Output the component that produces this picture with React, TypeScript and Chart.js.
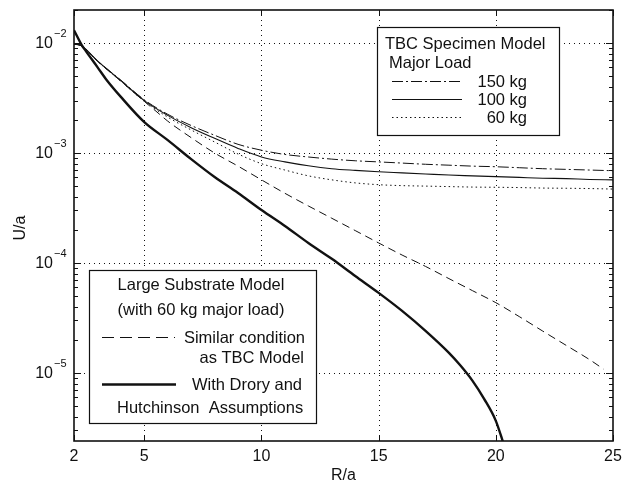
import React, { useEffect, useRef } from "react";
import { Chart, registerables } from "chart.js";

Chart.register(...registerables);

// ---- axis settings ----
const X_MIN = 2;
const X_MAX = 25;
const Y_MIN = 2.4e-6;
const Y_MAX = 2.0e-2;
const X_TICKS = [2, 5, 10, 15, 20, 25];
const Y_EXPONENTS = [-5, -4, -3, -2];
const X_TITLE = "R/a";
const Y_TITLE = "U/a";

// ---- TBC specimen model (major load) ----
const R_TBC = [2, 2.3, 3, 4, 5, 6, 7, 8, 9, 10, 11, 12, 13, 14, 15, 16, 17, 18, 19, 20, 21, 22, 23, 24, 25];
const U_150 = [9.8e-3, 9.5e-3, 6.9e-3, 4.6e-3, 3.05e-3, 2.25e-3, 1.78e-3, 1.45e-3, 1.2e-3, 1.06e-3, 9.7e-4, 9.2e-4, 8.8e-4, 8.5e-4, 8.3e-4, 8.1e-4, 7.9e-4, 7.75e-4, 7.6e-4, 7.5e-4, 7.35e-4, 7.2e-4, 7.1e-4, 7.0e-4, 6.9e-4];
const U_100 = [9.8e-3, 9.5e-3, 6.9e-3, 4.55e-3, 3.0e-3, 2.2e-3, 1.7e-3, 1.36e-3, 1.1e-3, 9.2e-4, 8.3e-4, 7.65e-4, 7.2e-4, 6.95e-4, 6.75e-4, 6.6e-4, 6.45e-4, 6.3e-4, 6.2e-4, 6.1e-4, 6.0e-4, 5.9e-4, 5.85e-4, 5.75e-4, 5.7e-4];
const U_60 = [9.8e-3, 9.5e-3, 6.85e-3, 4.5e-3, 2.95e-3, 2.12e-3, 1.62e-3, 1.26e-3, 9.8e-4, 8.0e-4, 7.0e-4, 6.2e-4, 5.7e-4, 5.35e-4, 5.15e-4, 5.05e-4, 5.0e-4, 4.95e-4, 4.9e-4, 4.88e-4, 4.85e-4, 4.8e-4, 4.78e-4, 4.75e-4, 4.7e-4];

// ---- Large substrate model (60 kg) ----
const R_SIMILAR = [2, 2.3, 3, 4, 5, 5.5, 6, 7, 8, 9, 10, 11, 12, 13, 14, 15, 16, 17, 18, 19, 20, 21, 22, 23, 24, 24.6];
const U_SIMILAR = [9.8e-3, 9.5e-3, 6.85e-3, 4.5e-3, 2.95e-3, 2.4e-3, 1.95e-3, 1.38e-3, 1.0e-3, 7.6e-4, 5.7e-4, 4.3e-4, 3.3e-4, 2.55e-4, 1.97e-4, 1.52e-4, 1.18e-4, 9.3e-5, 7.2e-5, 5.6e-5, 4.35e-5, 3.25e-5, 2.4e-5, 1.78e-5, 1.32e-5, 1.08e-5];
const R_DRORY = [2, 2.33, 2.5, 3, 3.4, 4, 5, 6, 7, 8, 9, 10, 11, 12, 13, 14, 15, 16, 17, 18, 18.5, 19, 19.5, 20, 20.35];
const U_DRORY = [1.31e-2, 9.6e-3, 8.5e-3, 6.05e-3, 4.6e-3, 3.24e-3, 1.91e-3, 1.31e-3, 8.8e-4, 6.05e-4, 4.33e-4, 3.03e-4, 2.17e-4, 1.52e-4, 1.09e-4, 7.6e-5, 5.34e-5, 3.66e-5, 2.41e-5, 1.52e-5, 1.16e-5, 8.5e-6, 5.8e-6, 3.66e-6, 2.2e-6];

// ---- legend texts ----
const TBC_TITLE = ["TBC Specimen Model", "Major Load"];
const TBC_LABELS = ["150 kg", "100 kg", "60 kg"];
const LS_TITLE = ["Large Substrate Model", "(with 60 kg major load)"];
const LS_LABEL_1 = ["Similar condition", "as TBC Model"];
const LS_LABEL_2 = ["With Drory and", "Hutchinson  Assumptions"];

const FONT = "'Liberation Sans', Arial, Helvetica, sans-serif";
const INK = "#111";

const DASH_150 = [11, 3, 2, 3];
const DASH_60 = [1.5, 3];
const DASH_SIM = [8, 5];

function pts(xs: number[], ys: number[]) {
  return xs.map((x, i) => ({ x, y: ys[i] }));
}

const decorPlugin = {
  id: "decor",
  beforeDatasetsDraw(chart: any) {
    const { ctx, chartArea: a, scales } = chart;
    const xs = scales.x;
    const ys = scales.y;
    ctx.save();
    ctx.strokeStyle = INK;
    ctx.lineWidth = 1;
    ctx.setLineDash([1, 4]);
    for (const t of X_TICKS) {
      if (t === X_MIN || t === X_MAX) continue;
      const px = Math.round(xs.getPixelForValue(t)) + 0.5;
      ctx.beginPath();
      ctx.moveTo(px, a.top);
      ctx.lineTo(px, a.bottom);
      ctx.stroke();
    }
    for (const e of Y_EXPONENTS) {
      const py = Math.round(ys.getPixelForValue(Math.pow(10, e))) + 0.5;
      ctx.beginPath();
      ctx.moveTo(a.left, py);
      ctx.lineTo(a.right, py);
      ctx.stroke();
    }
    ctx.restore();
  },
  afterDraw(chart: any) {
    const { ctx, chartArea: a, scales } = chart;
    const xs = scales.x;
    const ys = scales.y;
    ctx.save();
    ctx.setLineDash([]);
    ctx.strokeStyle = INK;
    ctx.fillStyle = INK;

    // ticks (inward, both sides)
    ctx.lineWidth = 1;
    for (const t of X_TICKS) {
      const px = Math.round(xs.getPixelForValue(t)) + 0.5;
      ctx.beginPath();
      ctx.moveTo(px, a.bottom);
      ctx.lineTo(px, a.bottom - 6);
      ctx.moveTo(px, a.top);
      ctx.lineTo(px, a.top + 6);
      ctx.stroke();
    }
    const eLo = Math.floor(Math.log10(Y_MIN));
    const eHi = Math.ceil(Math.log10(Y_MAX));
    for (let e = eLo; e <= eHi; e++) {
      for (let m = 1; m <= 9; m++) {
        const v = m * Math.pow(10, e);
        if (v < Y_MIN || v > Y_MAX) continue;
        const len = m === 1 ? 7 : 4;
        const py = Math.round(ys.getPixelForValue(v)) + 0.5;
        ctx.beginPath();
        ctx.moveTo(a.left, py);
        ctx.lineTo(a.left + len, py);
        ctx.moveTo(a.right, py);
        ctx.lineTo(a.right - len, py);
        ctx.stroke();
      }
    }

    // frame
    ctx.lineWidth = 1.6;
    ctx.strokeRect(a.left, a.top, a.right - a.left, a.bottom - a.top);

    // x tick labels
    ctx.font = `16px ${FONT}`;
    ctx.textAlign = "center";
    ctx.textBaseline = "middle";
    for (const t of X_TICKS) {
      ctx.fillText(String(t), xs.getPixelForValue(t), a.bottom + 16);
    }
    // y tick labels 10^e
    for (const e of Y_EXPONENTS) {
      const py = ys.getPixelForValue(Math.pow(10, e));
      ctx.font = `16px ${FONT}`;
      ctx.textAlign = "right";
      ctx.textBaseline = "middle";
      ctx.fillText("10", a.left - 21, py + 1);
      ctx.font = `11px ${FONT}`;
      ctx.textAlign = "left";
      ctx.fillText("\u2212" + String(-e), a.left - 20, py - 9);
    }
    // axis titles
    ctx.font = `16px ${FONT}`;
    ctx.textAlign = "center";
    ctx.textBaseline = "middle";
    ctx.fillText(X_TITLE, (a.left + a.right) / 2, a.bottom + 35);
    ctx.save();
    ctx.translate(21, 228);
    ctx.rotate(-Math.PI / 2);
    ctx.fillText(Y_TITLE, 0, 0);
    ctx.restore();

    // ---- legend helpers ----
    const drawBox = (x1: number, y1: number, x2: number, y2: number) => {
      ctx.save();
      ctx.fillStyle = "#fff";
      ctx.fillRect(x1, y1, x2 - x1, y2 - y1);
      ctx.strokeStyle = INK;
      ctx.lineWidth = 1.2;
      ctx.setLineDash([]);
      ctx.strokeRect(x1 + 0.5, y1 + 0.5, x2 - x1, y2 - y1);
      ctx.restore();
    };
    const sample = (x1: number, x2: number, y: number, dash: number[], w: number) => {
      ctx.save();
      ctx.strokeStyle = INK;
      ctx.lineWidth = w;
      ctx.setLineDash(dash);
      ctx.beginPath();
      ctx.moveTo(x1, y + 0.5);
      ctx.lineTo(x2, y + 0.5);
      ctx.stroke();
      ctx.restore();
    };

    // ---- legend 1: TBC ----
    drawBox(377, 27, 559, 135);
    ctx.fillStyle = INK;
    ctx.font = `16.5px ${FONT}`;
    ctx.textBaseline = "middle";
    ctx.textAlign = "left";
    ctx.fillText(TBC_TITLE[0], 385, 44);
    ctx.fillText(TBC_TITLE[1], 389, 63);
    const rowY = [81, 99, 117];
    const rowDash = [DASH_150, [], DASH_60];
    ctx.textAlign = "right";
    for (let i = 0; i < TBC_LABELS.length; i++) {
      sample(392, 462, rowY[i], rowDash[i], 1);
      ctx.fillText(TBC_LABELS[i], 527, rowY[i] + 1);
    }

    // ---- legend 2: large substrate ----
    drawBox(89, 270, 316, 423);
    ctx.fillStyle = INK;
    ctx.font = `16.5px ${FONT}`;
    ctx.textAlign = "center";
    ctx.fillText(LS_TITLE[0], 201, 285);
    ctx.fillText(LS_TITLE[1], 201, 310);
    sample(102, 175, 337, [12, 6], 1);
    ctx.textAlign = "right";
    ctx.fillText(LS_LABEL_1[0], 305, 338);
    ctx.fillText(LS_LABEL_1[1], 304, 358);
    sample(102, 176, 384, [], 2.6);
    ctx.fillText(LS_LABEL_2[0], 302, 385);
    ctx.textAlign = "left";
    ctx.fillText(LS_LABEL_2[1], 117, 408);

    ctx.restore();
  },
};

export default function App() {
  const ref = useRef<HTMLCanvasElement | null>(null);
  useEffect(() => {
    if (!ref.current) return;
    const common = { borderColor: INK, pointRadius: 0, fill: false, cubicInterpolationMode: "monotone" as const };
    const chart = new Chart(ref.current, {
      type: "line",
      data: {
        datasets: [
          { ...common, label: "150 kg", data: pts(R_TBC, U_150), borderWidth: 1, borderDash: DASH_150 },
          { ...common, label: "100 kg", data: pts(R_TBC, U_100), borderWidth: 1.1 },
          { ...common, label: "60 kg", data: pts(R_TBC, U_60), borderWidth: 1, borderDash: DASH_60 },
          { ...common, label: "Similar condition as TBC Model", data: pts(R_SIMILAR, U_SIMILAR), borderWidth: 1, borderDash: DASH_SIM },
          { ...common, label: "With Drory and Hutchinson Assumptions", data: pts(R_DRORY, U_DRORY), borderWidth: 2.4 },
        ],
      },
      options: {
        animation: false,
        responsive: false,
        maintainAspectRatio: false,
        layout: { padding: { left: 74, top: 10, right: 11, bottom: 43 } },
        plugins: { legend: { display: false }, tooltip: { enabled: false } },
        scales: {
          x: { type: "linear", min: X_MIN, max: X_MAX, display: false },
          y: { type: "logarithmic", min: Y_MIN, max: Y_MAX, display: false },
        },
      },
      plugins: [decorPlugin],
    });
    return () => chart.destroy();
  }, []);
  return (
    <div style={{ position: "fixed", left: 0, top: 0, width: 624, height: 484, background: "#fff" }}>
      <canvas ref={ref} width={624} height={484} style={{ width: 624, height: 484, display: "block" }} />
    </div>
  );
}
